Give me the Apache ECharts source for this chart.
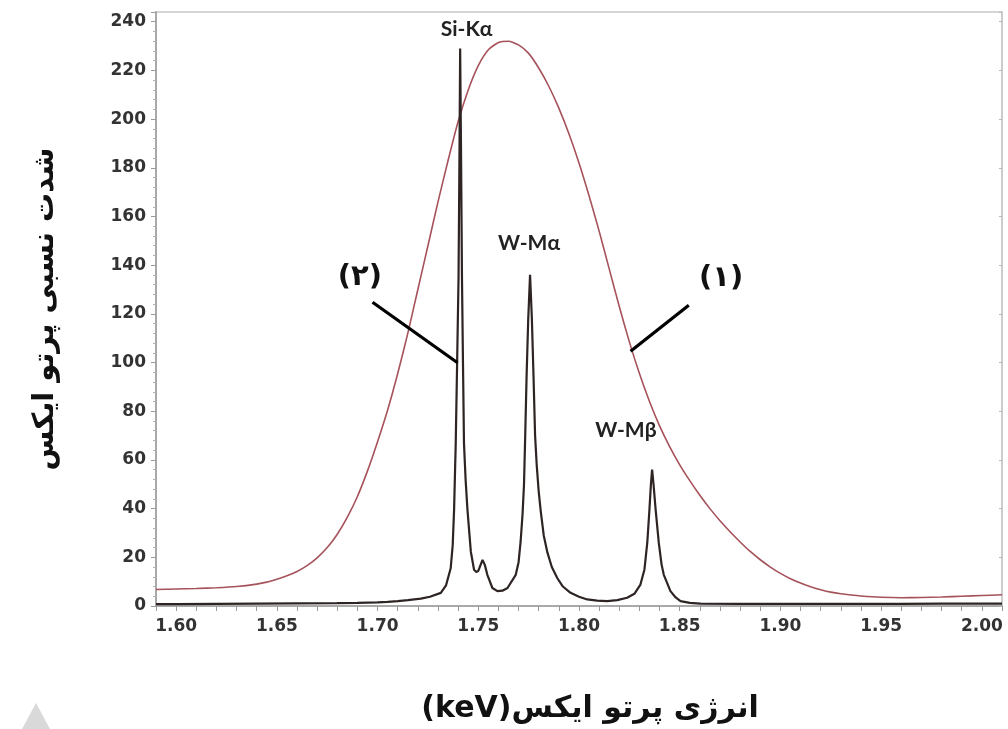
<!DOCTYPE html>
<html><head><meta charset="utf-8">
<script src="https://cdn.jsdelivr.net/npm/echarts@6/dist/echarts.min.js"></script>
<style>html,body{margin:0;padding:0;background:#fff}#c{width:1008px;height:729px}</style>
</head><body><div id="c"></div>
<script>
// Curve (1): broad spectrum
const energyBroad = [1.590,1.600,1.610,1.620,1.630,1.640,1.645,1.650,1.655,1.660,1.665,1.670,1.675,1.680,1.685,1.690,1.695,1.700,1.705,1.710,1.715,1.720,1.725,1.730,1.735,1.740,1.745,1.750,1.755,1.760,1.765,1.770,1.775,1.780,1.785,1.790,1.795,1.800,1.805,1.810,1.815,1.820,1.825,1.830,1.835,1.840,1.845,1.850,1.855,1.860,1.865,1.870,1.875,1.880,1.885,1.890,1.895,1.900,1.905,1.910,1.915,1.920,1.925,1.930,1.935,1.940,1.950,1.960,1.970,1.980,1.990,2.000,2.010];
const intensityBroad = [6.8,7.0,7.2,7.5,8.0,9.0,9.8,11.0,12.4,14.2,16.6,19.8,24.0,29.5,36.5,45.0,55.5,67.5,80.5,95.5,112,130,148,166,183,199,212,222,228.5,231.5,232,230.5,227,221,213.5,204.5,194,182,168.5,154,138.5,123,108.5,95.5,84,74,65.5,58,51.5,45.5,40,35,30.5,26.3,22.4,19,16,13.4,11.2,9.4,7.9,6.7,5.7,5.0,4.5,4.1,3.6,3.4,3.5,3.7,4.0,4.3,4.6];
// Curve (2): narrow spectrum
const energyNarrow = [1.590,1.600,1.620,1.640,1.660,1.680,1.690,1.700,1.705,1.710,1.715,1.7215,1.726,1.7314,1.734,1.7363,1.7373,1.7380,1.7388,1.7395,1.7402,1.7407,1.7410,1.7414,1.7419,1.7424,1.7429,1.7437,1.7446,1.7463,1.7479,1.7490,1.7500,1.7521,1.7532,1.7545,1.7570,1.7595,1.7620,1.7645,1.7686,1.7700,1.7710,1.7720,1.7727,1.7733,1.7740,1.7748,1.7757,1.7766,1.7774,1.7782,1.7790,1.7800,1.7810,1.7825,1.7843,1.7865,1.7892,1.7920,1.7958,1.8000,1.8041,1.8090,1.8140,1.8190,1.8239,1.8275,1.8305,1.8325,1.8339,1.8350,1.8357,1.8363,1.8370,1.8380,1.8396,1.8410,1.8421,1.8454,1.8480,1.8504,1.8550,1.8603,1.880,1.900,1.920,1.940,1.960,1.980,2.000,2.010];
const intensityNarrow = [0.8,0.8,0.9,1.0,1.1,1.2,1.3,1.5,1.7,2.0,2.4,3.0,3.8,5.4,8.5,15.5,25,39.8,66.8,100,135,190,229,190,135,100,66.8,52,39.8,22.3,14.9,14.0,14.4,18.9,17,12.8,7.4,6.1,6.3,7.4,12.8,18,26.3,38,50,70,95,118,136,118,95,70,58,47,39,29,22,16,11.5,8,5.4,3.8,2.7,2.2,2.0,2.4,3.4,5,8.8,15,26,40,50,56,50,40,26,17,12.8,6.1,3.5,2.0,1.3,1.0,0.9,0.9,0.9,0.9,0.9,1.0,1.0,1.0];

// Peak labels
const peakLabels = ['Si-Kα','W-Mα','W-Mβ'];
const peakLabelE = [1.7442,1.7752,1.8233];
const peakLabelI = [236.8,149.1,72];
// Curve markers and their leader lines
const curveLabels = ['(۲)','(۱)'];
const curveLabelE = [1.6912,1.8706];
const curveLabelI = [134.9,134.4];
const leaderStart = [[1.6975,124.8],[1.8545,123.5]];
const leaderEnd = [[1.7397,99.9],[1.8256,104.6]];

const xTitle = '(keV)انرژی پرتو ایکس';
const yTitle = 'شدت نسبی پرتو ایکس';

const chart = echarts.init(document.getElementById('c'), null, {renderer:'canvas'});
const zip = (a,b) => a.map((v,i)=>[v,b[i]]);
const axisColor = '#9a9a9a';
const labelFont = {color:'#333', fontFamily:'DejaVu Sans', fontWeight:'bold', fontSize:17};

const markPts = [];
peakLabels.forEach((t,i)=>markPts.push({name:t, coord:[peakLabelE[i],peakLabelI[i]],
  label:{fontFamily:'Lato', fontWeight:'bold', fontSize:21, color:'#222'}}));
curveLabels.forEach((t,i)=>markPts.push({name:t, coord:[curveLabelE[i],curveLabelI[i]],
  label:{fontFamily:'DejaVu Sans', fontWeight:'bold', fontSize:29, color:'#111'}}));

chart.setOption({
  animation:false,
  backgroundColor:'#fff',
  grid:{left:156, right:6, top:12, bottom:114, show:true, borderColor:'#c8c8c8', borderWidth:1.5},
  xAxis:{
    type:'value', min:1.59, max:2.01, interval:0.01,
    name:xTitle, nameLocation:'middle', nameGap:88,
    nameTextStyle:{fontFamily:'DejaVu Sans', fontWeight:'bold', fontSize:30, color:'#111', padding:[0,0,0,22]},
    axisLine:{lineStyle:{color:axisColor, width:1.5}},
    axisTick:{length:5, lineStyle:{color:axisColor}},
    splitLine:{show:false},
    axisLabel:Object.assign({}, labelFont, {margin:12, fontSize:17,
      formatter:function(v){const k=Math.round(v*100); return k%5===0 ? (k/100).toFixed(2) : '';}})
  },
  yAxis:[{
    type:'value', min:0, max:244, interval:20,
    name:yTitle, nameLocation:'middle', nameGap:96, nameRotate:90,
    nameTextStyle:{fontFamily:'DejaVu Sans', fontWeight:'bold', fontSize:29, color:'#111'},
    axisLine:{show:true, lineStyle:{color:axisColor, width:1.5}},
    axisTick:{show:true, length:5, lineStyle:{color:axisColor}},
    minorTick:{show:true, splitNumber:5, length:3, lineStyle:{color:'#b0b0b0'}},
    splitLine:{show:false},
    axisLabel:Object.assign({}, labelFont, {margin:10, showMaxLabel:false})
  },{
    type:'value', min:0, max:244, interval:20, position:'right',
    axisLine:{show:true, lineStyle:{color:'#c8c8c8', width:1.5}},
    axisTick:{show:true, inside:true, length:3, lineStyle:{color:'#b8b8b8'}},
    axisLabel:{show:false}, splitLine:{show:false}
  }],
  graphic:[{type:'polygon', left:22, top:703, shape:{points:[[14,0],[0,26],[28,26]]}, style:{fill:'#d9d9d9'}}],
  series:[{
    type:'line', name:'(1)', data:zip(energyBroad,intensityBroad), showSymbol:false, smooth:0.2,
    lineStyle:{color:'#a6525a', width:1.6}, z:2,
    markPoint:{symbol:'circle', symbolSize:1, itemStyle:{color:'rgba(0,0,0,0)'},
      label:{show:true, position:'inside', formatter:'{b}'}, data:markPts},
    markLine:{symbol:['none','none'], silent:true, label:{show:false},
      lineStyle:{color:'#000', width:3.2, type:'solid'},
      data:leaderStart.map((s,i)=>[{coord:s},{coord:leaderEnd[i]}])}
  },{
    type:'line', name:'(2)', data:zip(energyNarrow,intensityNarrow), showSymbol:false, smooth:false,
    lineStyle:{color:'#2e2424', width:2.2}, z:3
  }]
});
</script></body></html>
